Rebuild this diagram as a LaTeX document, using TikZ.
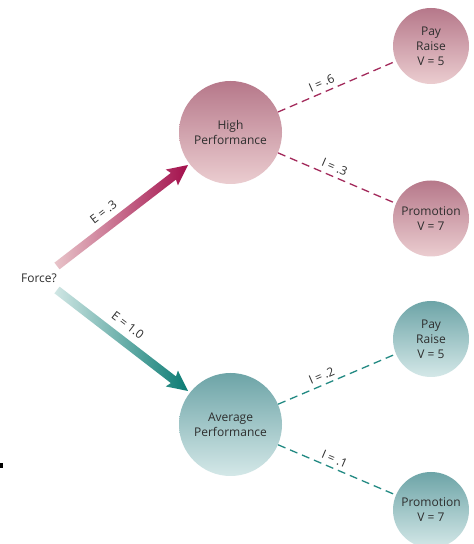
\documentclass[tikz,border=0pt]{standalone}
\usepackage{fontspec}
\setmainfont{Open Sans}
\definecolor{pinkTop}{HTML}{B6788A}
\definecolor{pinkBot}{HTML}{EBCDD0}
\definecolor{tealTop}{HTML}{6DA4A7}
\definecolor{tealBot}{HTML}{D4E8E8}
\definecolor{magDash}{HTML}{A32A5B}
\definecolor{tealDash}{HTML}{238A83}
\definecolor{magTip}{HTML}{A30F4C}
\definecolor{magStart}{HTML}{E8C4C9}
\definecolor{tealTip}{HTML}{0A7B73}
\definecolor{tealStart}{HTML}{D0E6E4}
\definecolor{txt}{HTML}{2E2E2E}
\tikzset{
  bigpink/.style={circle, minimum size=103pt, inner sep=0pt, top color=pinkTop, bottom color=pinkBot, align=center, text=txt, font=\fontsize{12}{15}\selectfont},
  smallpink/.style={circle, minimum size=76pt, inner sep=0pt, top color=pinkTop, bottom color=pinkBot, align=center, text=txt, font=\fontsize{12}{15}\selectfont},
  bigteal/.style={bigpink, top color=tealTop, bottom color=tealBot},
  smallteal/.style={smallpink, top color=tealTop, bottom color=tealBot},
  magline/.style={magDash, line width=1.3pt, dash pattern=on 8pt off 5pt},
  tealline/.style={tealDash, line width=1.3pt, dash pattern=on 8pt off 5pt},
  lbl/.style={text=txt, font=\fontsize{12}{14}\selectfont, sloped, inner sep=1.5pt},
}
\begin{document}
\begin{tikzpicture}[x=1pt,y=1pt]
\useasboundingbox (0,0) rectangle (474,544);
\fill[white] (0,0) rectangle (474,544);
% nodes
\node[bigpink] (hp) at (230.5,411.5) {High\\Performance};
\node[smallpink] (pr1) at (431,498) {Pay\\Raise\\V = 5};
\node[smallpink] (pm1) at (431,325.5) {Promotion\\V = 7};
\node[bigteal] (ap) at (230.5,119.5) {Average\\Performance};
\node[smallteal] (pr2) at (431,205) {Pay\\Raise\\V = 5};
\node[smallteal] (pm2) at (431,34) {Promotion\\V = 7};
\node[text=txt, font=\fontsize{12}{14}\selectfont] (force) at (39,266) {Force?};
\coordinate (s1) at (57,278);
\coordinate (t1) at (188,379);
\coordinate (s2) at (57,254);
\coordinate (t2) at (188,153);
% thick arrows
\begin{scope}[shift={(s1)}, rotate=37.63]
  \shade[left color=magStart, right color=magTip]
    (0,-4.2) -- (147,-4.2) -- (145,-10) -- (165.4,0) -- (145,10) -- (147,4.2) -- (0,4.2) -- cycle;
\end{scope}
\begin{scope}[shift={(s2)}, rotate=-37.63]
  \shade[left color=tealStart, right color=tealTip]
    (0,-4.2) -- (147,-4.2) -- (145,-10) -- (165.4,0) -- (145,10) -- (147,4.2) -- (0,4.2) -- cycle;
\end{scope}
\path (s1) -- (t1) node[lbl, pos=0.42, above=8pt] (e1) {E = .3};
\path (s2) -- (t2) node[lbl, pos=0.47, above=9pt] (e2) {E = 1.0};
% dashed connectors
\draw[magline] (hp) -- (pr1) node[lbl, pos=0.4, above=2.5pt] (i1) {I = .6};
\draw[magline] (hp) -- (pm1) node[lbl, pos=0.45, above=2.5pt] (i2) {I = .3};
\draw[tealline] (ap) -- (pr2) node[lbl, pos=0.4, above=2.5pt] (i3) {I = .2};
\draw[tealline] (ap) -- (pm2) node[lbl, pos=0.45, above=2.5pt] (i4) {I = .1};
% stray mark
\fill[black] (0,76) rectangle (3,81);
\end{tikzpicture}
\end{document}
